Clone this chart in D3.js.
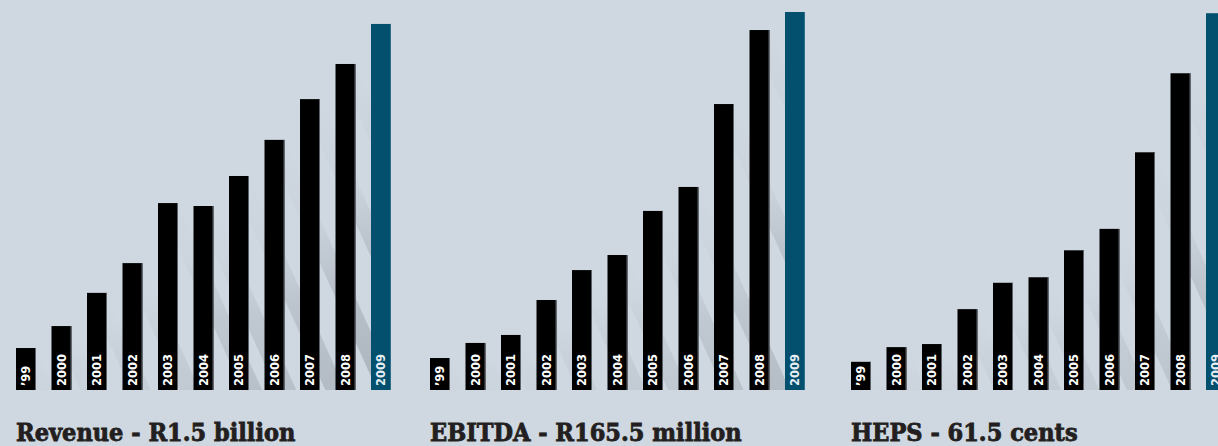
<!DOCTYPE html>
<html>
<head>
<meta charset="utf-8">
<script src="https://cdn.jsdelivr.net/npm/d3@7/dist/d3.min.js"></script>
<style>
  html, body { margin: 0; padding: 0; background: #cfd7e0; }
  svg { display: block; }
</style>
</head>
<body>
<script>
// ---- Data ----
const years = ["\u201999", "2000", "2001", "2002", "2003", "2004", "2005", "2006", "2007", "2008", "2009"];
const revenue = [172, 262, 398, 520, 766, 754, 877, 1025, 1192, 1336, 1500];   // R million
const ebitda  = [14.0, 20.6, 24.1, 39.4, 52.5, 59.1, 78.4, 88.9, 125.2, 157.6, 165.5]; // R million
const heps    = [4.6, 7.0, 7.5, 13.2, 17.5, 18.4, 22.8, 26.3, 38.8, 51.7, 61.5]; // cents
const titles  = ["Revenue - R1.5 billion", "EBITDA - R165.5 million", "HEPS - 61.5 cents"];
const domainMax = [1549, 165.5, 61.7];
const seriesList = [revenue, ebitda, heps];

// ---- Layout ----
const W = 1218, H = 446;
const panelX = [16, 430, 851];
const baseline = 390, topY = 12;
const bandWidth = 375;
const slope = 0.45; // shadow dx per dy

const svg = d3.select("body").append("svg").attr("width", W).attr("height", H);
svg.append("rect").attr("width", W).attr("height", H).attr("fill", "#cfd7e0");

const defs = svg.append("defs");
const grad = defs.append("linearGradient").attr("id", "shadowGrad")
  .attr("x1", 0).attr("y1", 0).attr("x2", 0).attr("y2", 1);
grad.append("stop").attr("offset", "0").attr("stop-color", "#4d545c").attr("stop-opacity", 0);
grad.append("stop").attr("offset", "0.3").attr("stop-color", "#4d545c").attr("stop-opacity", 0.05);
grad.append("stop").attr("offset", "0.6").attr("stop-color", "#4d545c").attr("stop-opacity", 0.3);
grad.append("stop").attr("offset", "1").attr("stop-color", "#4d545c").attr("stop-opacity", 0.45);

const y = d3.scaleLinear().range([baseline, topY]);

seriesList.forEach((vals, p) => {
  const x = d3.scaleBand().domain(years).range([0, bandWidth]).paddingInner(0.437).paddingOuter(0);
  y.domain([0, domainMax[p]]);
  const g = svg.append("g").attr("transform", `translate(${panelX[p]},0)`);
  const bw = x.bandwidth();

  const clipId = "clip" + p;
  defs.append("clipPath").attr("id", clipId).append("rect")
    .attr("x", -10).attr("y", 0)
    .attr("width", bandWidth + 10).attr("height", baseline);

  const data = years.map((yr, i) => ({ yr, v: vals[i], i }));

  // shadows
  g.append("g").attr("clip-path", `url(#${clipId})`)
    .selectAll("path").data(data).join("path")
    .attr("fill", "url(#shadowGrad)")
    .attr("fill-opacity", d => Math.pow((baseline - y(d.v)) / (baseline - topY), 1.3))
    .attr("d", d => {
      const x0 = x(d.yr), x1 = x0 + bw, t = y(d.v);
      const h = baseline - t;
      const dx = h * slope;
      return `M${x0},${t} L${x1},${t} L${x1 + dx},${baseline} L${x0 + dx},${baseline} Z`;
    });

  // bars
  g.selectAll("rect.bar").data(data).join("rect")
    .attr("class", "bar")
    .attr("x", d => x(d.yr))
    .attr("y", d => y(d.v))
    .attr("width", bw)
    .attr("height", d => baseline - y(d.v))
    .attr("fill", d => d.i === years.length - 1 ? "#02506e" : "#000000");

  // bar edge highlight
  g.selectAll("line.edge").data(data).join("line")
    .attr("class", "edge")
    .attr("x1", d => x(d.yr) + bw - 0.5).attr("x2", d => x(d.yr) + bw - 0.5)
    .attr("y1", d => y(d.v)).attr("y2", baseline)
    .attr("stroke", d => d.i === years.length - 1 ? "#2d6f8c" : "#5d636b")
    .attr("stroke-width", 1);

  // year labels
  g.selectAll("text.yr").data(data).join("text")
    .attr("class", "yr")
    .attr("transform", d => `translate(${x(d.yr) + bw / 2},${baseline - 4}) rotate(-90)`)
    .attr("dy", "0.36em")
    .attr("text-anchor", "start")
    .attr("fill", d => d.i === years.length - 1 ? "#e6eef3" : "#ffffff")
    .style("font-family", "'DejaVu Sans', sans-serif")
    .style("font-weight", "bold")
    .style("font-size", "11.5px")
    .text(d => d.yr);

  // title
  svg.append("text")
    .attr("x", panelX[p]).attr("y", 441)
    .attr("fill", "#231f20")
    .attr("stroke", "#231f20")
    .attr("stroke-width", 0.8)
    .style("font-family", "'DejaVu Serif Condensed', 'DejaVu Serif', serif")
    .style("font-weight", "bold")
    .style("font-size", "25px")
    .text(titles[p]);
});
</script>
</body>
</html>
